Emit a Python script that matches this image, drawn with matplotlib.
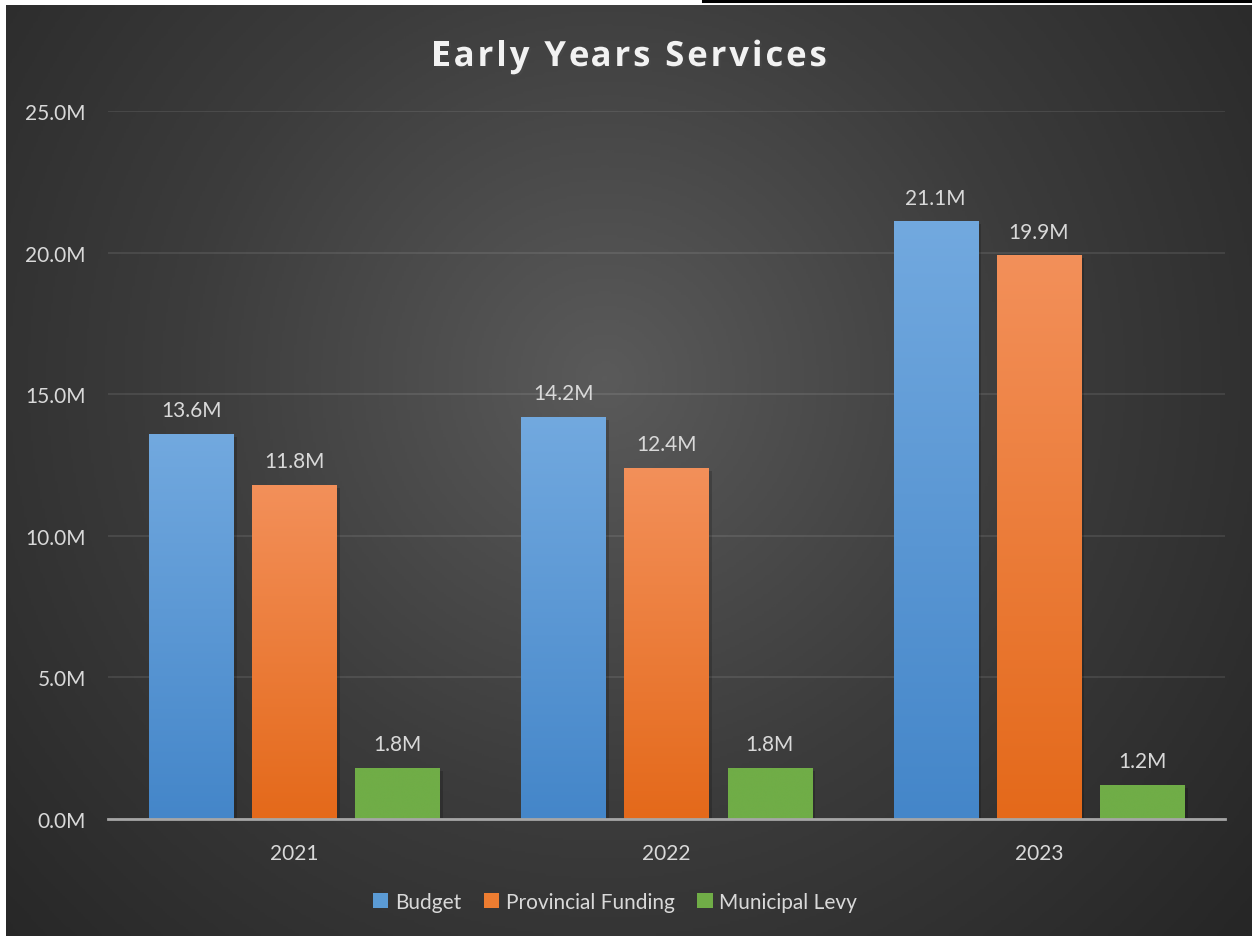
import matplotlib
matplotlib.use('Agg')
import matplotlib.pyplot as plt
import matplotlib.patches as mpatches
import matplotlib.patheffects as pe
from matplotlib.colors import LinearSegmentedColormap
import numpy as np

# ── data ──────────────────────────────────────────────────────────────────
years = ['2021', '2022', '2023']
budget = [13.6, 14.2, 21.1]
provincial = [11.8, 12.4, 19.9]
municipal = [1.8, 1.8, 1.2]
series_names = ['Budget', 'Provincial Funding', 'Municipal Levy']
y_ticks = [0, 5, 10, 15, 20, 25]
title = 'Early Years Services'

plt.rcParams['font.family'] = ['Lato', 'DejaVu Sans']

W, H = 1252, 937
fig = plt.figure(figsize=(W / 100, H / 100), dpi=100, facecolor='white')

# ── background: radial gradient ───────────────────────────────────────────
bg = fig.add_axes([6 / W, 0, 1 - 6 / W, 1 - 6 / H])
bg.set_axis_off()
yy, xx = np.mgrid[0:400, 0:540]
cx, cy = 270 * 0.96, 400 * 0.40
r = np.sqrt(((xx - cx) / 540) ** 2 + ((yy - cy) / 400) ** 2 * 0.56)
r = np.clip(r / 0.68, 0, 1)
bg_cmap = LinearSegmentedColormap.from_list('bg', ['#5a5a5a', '#3c3c3c', '#262626'])
bg.imshow(r, cmap=bg_cmap, aspect='auto', extent=(0, 1, 0, 1), origin='upper')
bg.set_xlim(0, 1)
bg.set_ylim(0, 1)

# top black stroke (screenshot artefact)
fig.add_artist(plt.Line2D([703 / W, 1], [1 - 1.5 / H, 1 - 1.5 / H],
                          color='black', linewidth=2.2, transform=fig.transFigure))

# ── main axes ─────────────────────────────────────────────────────────────
ax = fig.add_axes([108 / W, 1 - 820 / H, (1225 - 108) / W, (820 - 112) / H])
ax.set_facecolor('none')

colors = [('#72a9df', '#4486c9', '#5b9bd5'),
          ('#f3905a', '#e4691a', '#ed7d31'),
          ('#70ad47', '#70ad47', '#70ad47')]
label_color = '#d9d9d9'
width = 0.226
offsets = [-0.277, 0.0, 0.277]
x = np.arange(len(years))

handles = []
for vals, off, (top, bot, base), name in zip([budget, provincial, municipal],
                                             offsets, colors, series_names):
    bars = ax.bar(x + off, vals, width=width, color=base, zorder=3,
                  path_effects=[pe.SimplePatchShadow(offset=(2.5, -2), alpha=0.18,
                                                     shadow_rgbFace='black'),
                                pe.Normal()])
    cmap = LinearSegmentedColormap.from_list(name, [bot, top])
    grad = np.linspace(0, 1, 256).reshape(-1, 1)
    for b, v in zip(bars, vals):
        im = ax.imshow(grad, cmap=cmap, aspect='auto', origin='lower', zorder=4,
                       extent=(b.get_x(), b.get_x() + b.get_width(), 0, v))
        im.set_clip_path(b)
        ax.annotate(f'{v:.1f}M', (b.get_x() + b.get_width() / 2, v),
                    xytext=(0, 17), textcoords='offset points',
                    ha='center', va='center', fontsize=15, color=label_color)
    handles.append(mpatches.Patch(facecolor=base, label=name))

ax.set_xlim(-0.5, len(years) - 0.5)
ax.set_ylim(0, 25)
ax.set_yticks(y_ticks)
ax.set_yticklabels([f'{t:.1f}M' for t in y_ticks])
ax.set_xticks(x)
ax.set_xticklabels(years)
ax.tick_params(axis='y', length=0, pad=16, labelsize=15, labelcolor=label_color)
ax.tick_params(axis='x', length=0, pad=17, labelsize=15, labelcolor=label_color)
ax.grid(axis='y', color='white', alpha=0.09, linewidth=1.5, zorder=1)
for s in ['top', 'right', 'left']:
    ax.spines[s].set_visible(False)
ax.spines['bottom'].set_color('#a6a6a6')
ax.spines['bottom'].set_linewidth(2)
ax.spines['bottom'].set_zorder(5)

# ── title, drawn char by char for the wide letter spacing ────────────────
title_kw = dict(fontsize=25, fontweight='bold', color='#f2f2f2',
                family=['Open Sans', 'DejaVu Sans'], va='baseline', ha='left',
                path_effects=[pe.withSimplePatchShadow(offset=(1.5, -1.5), alpha=0.5)])
renderer = fig.canvas.get_renderer()
track = 2.9  # extra px between letters
probe = fig.text(0, 0, title, **title_kw)
full_w = probe.get_window_extent(renderer).width + track * (len(title) - 1)
probe.remove()
x0 = 629 - full_w / 2
base_y = 1 - 67 / H
for i, ch in enumerate(title):
    if i:
        p = fig.text(0, 0, title[:i], **title_kw)
        w = p.get_window_extent(renderer).width
        p.remove()
    else:
        w = 0
    if ch != ' ':
        fig.text((x0 + w + track * i) / W, base_y, ch, **title_kw)

# ── legend ────────────────────────────────────────────────────────────────
leg = fig.legend(handles=handles, loc='center', bbox_to_anchor=(615 / W, 1 - 903 / H),
                 ncol=3, frameon=False, fontsize=15, handlelength=0.75,
                 handleheight=0.75, handletextpad=0.3, columnspacing=1.1)
for t in leg.get_texts():
    t.set_color(label_color)

fig.savefig('out.png', dpi=100, facecolor='white')
